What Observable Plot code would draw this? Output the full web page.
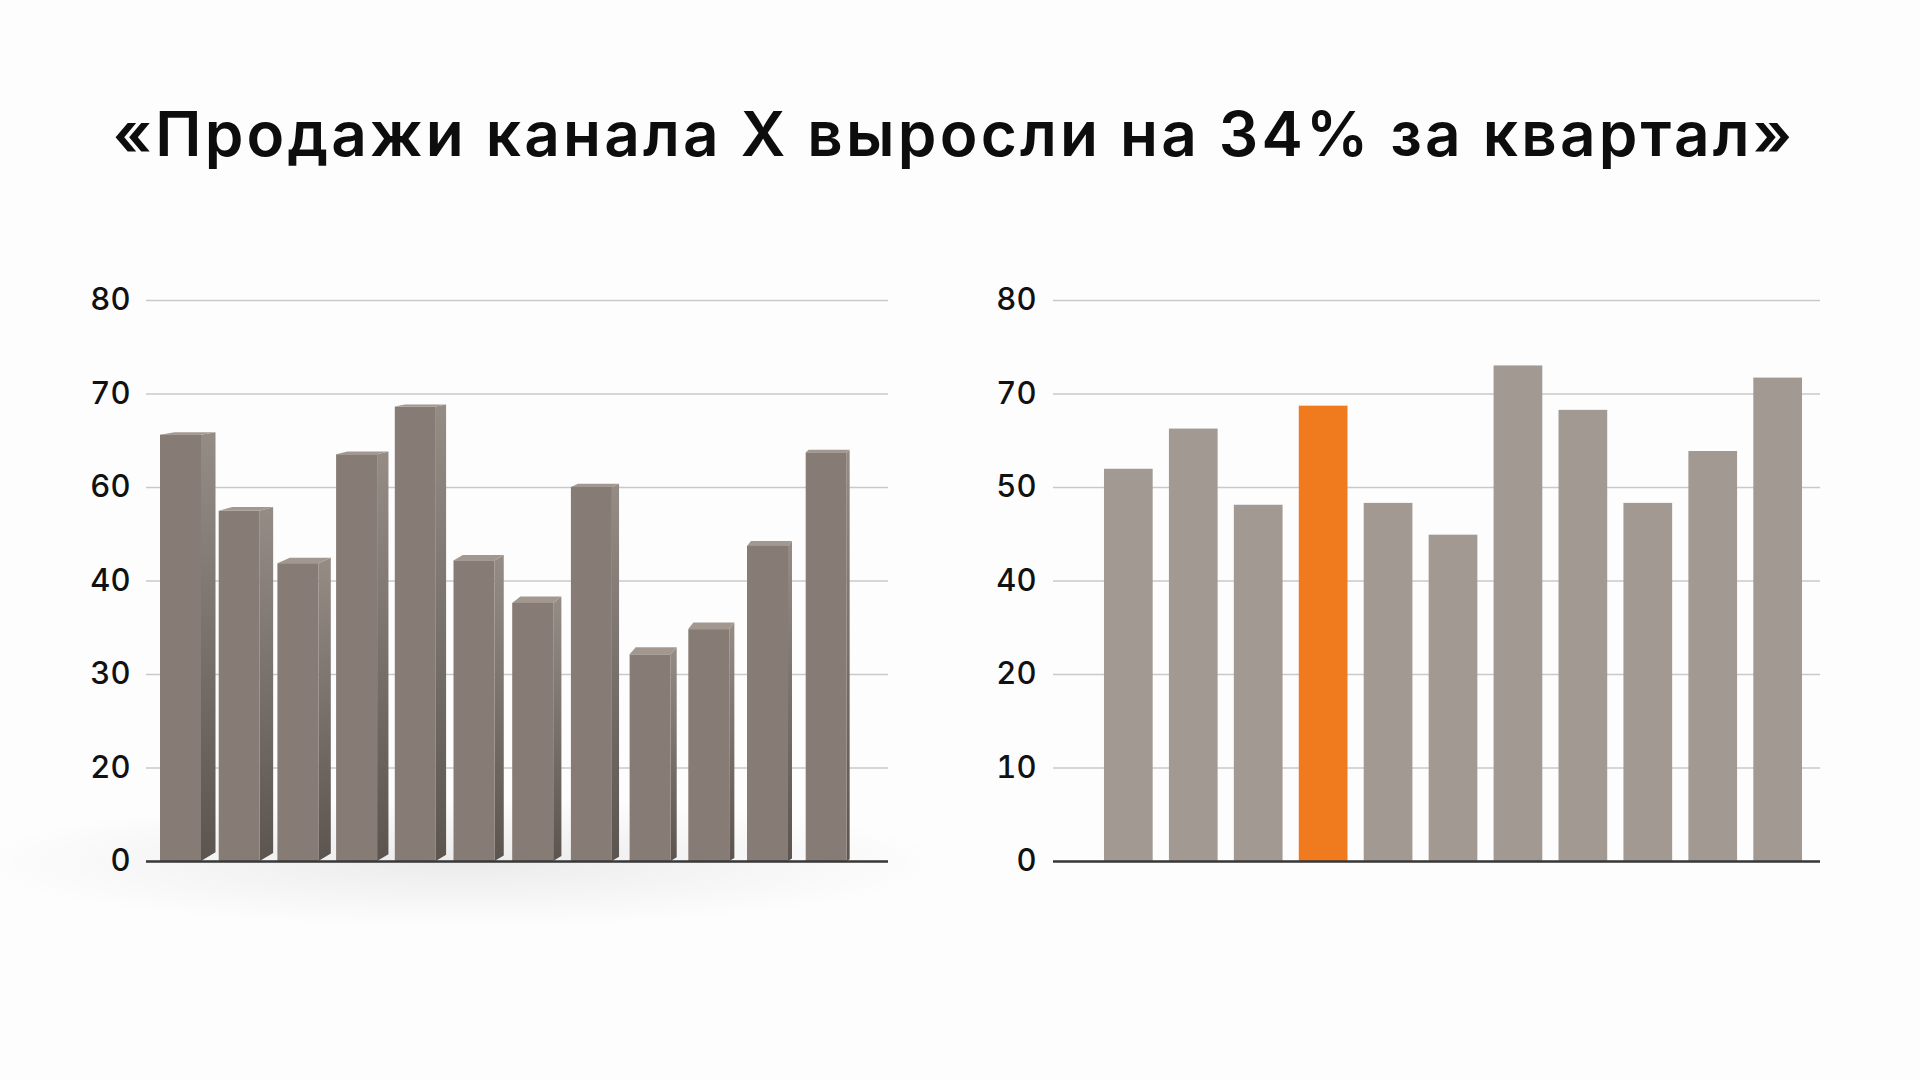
<!DOCTYPE html>
<html><head><meta charset="utf-8">
<script src="https://cdn.jsdelivr.net/npm/d3@7"></script>
<script src="https://cdn.jsdelivr.net/npm/@observablehq/plot@0.6"></script>
<style>
html,body{margin:0;padding:0;width:1920px;height:1080px;background:#fdfdfd;overflow:hidden;font-family:Inter,"Noto Sans",sans-serif}
#title{position:absolute;left:-6px;top:103px;width:1920px;text-align:center;font-size:62px;line-height:62px;font-weight:600;color:#0d0d0d;white-space:nowrap;letter-spacing:3.2px}
.chart{position:absolute;top:250px;width:960px;height:700px}
#shadow{position:absolute;left:-30px;top:800px;width:980px;height:130px;background:radial-gradient(ellipse 50% 50% at 50% 48%, rgba(0,0,0,0.07), rgba(0,0,0,0) 100%)}
.chart svg text{font-weight:500}
</style></head><body>
<div id="shadow"></div>
<div id="title">«Продажи канала X выросли на 34% за квартал»</div>
<div id="left" class="chart" style="left:0"></div>
<div id="right" class="chart" style="left:960px"></div>
<script>
// ---- data ----
const leftCats = ["1","2","3","4","5","6","7","8","9","10","11","12"];
const leftValues = [65.6, 54.9, 43.7, 63.5, 68.6, 44.3, 37.6, 60.0, 32.1, 34.8, 47.4, 63.7];
const leftTicks = [0, 20, 30, 40, 60, 70, 80];

const rightCats = ["1","2","3","4","5","6","7","8","9","10","11"];
const rightValues = [53.9, 62.5, 48.1, 67.4, 48.3, 44.9, 73.0, 66.5, 48.3, 57.7, 71.7];
const rightTicks = [0, 10, 20, 40, 50, 70, 80];
const highlightCat = "4";

// ---- layout / style ----
const W = 960, H = 700, MT = 50, MB = 89;
const evenRange = (ticks) => ticks.map((_, i) => H - MB - i * (H - MB - MT) / (ticks.length - 1));
const FONT = "Inter, 'Noto Sans', sans-serif";
const TICK_FS = 31;

// ---- left (3D) chart ----
const LM = 146, LR = 72;
const pitch = 58.7, firstPx = 160, frontPx = 41;
const lyOpts = {type: "linear", domain: leftTicks, range: evenRange(leftTicks)};
// same piecewise mapping as the plot's y scale, used only to size the 3D faces in pixels
const yS = d3.scaleLinear().domain(lyOpts.domain).range(lyOpts.range);
const depthPx = (i) => 14.5 - 1.05 * i;
const bars = leftValues.map((v, i) => {
  const dpx = depthPx(i);
  const d = dpx / pitch;
  const t = 1.5 + (72 - v) * 0.14;
  const L = i, R = i + frontPx / pitch;
  const vb = yS.invert(yS(v) - t);
  const rb = yS.invert(yS(0) - 0.6 * dpx);
  return {c: leftCats[i], v, L, R, d, vb, rb};
});
const sidePts = bars.flatMap((b, i) => [
  {b: i, x: b.R, y1: 0, y2: b.v},
  {b: i, x: b.R + b.d, y1: b.rb, y2: b.vb}
]);
const topPts = bars.flatMap((b, i) => [
  {b: i, x: b.L, y1: b.v, y2: b.v},
  {b: i, x: b.L + b.d, y1: b.v, y2: b.vb},
  {b: i, x: b.R, y1: b.v, y2: b.vb},
  {b: i, x: b.R + b.d, y1: b.vb, y2: b.vb}
]);

const defs = () => {
  const s = d3.create("svg:defs");
  const g = s.append("linearGradient").attr("id", "sideGrad")
    .attr("x1", 0).attr("y1", 0).attr("x2", 0).attr("y2", 1);
  g.append("stop").attr("offset", "0%").attr("stop-color", "#958c86");
  g.append("stop").attr("offset", "100%").attr("stop-color", "#5b544f");
  return s.node();
};

const left = Plot.plot({
  width: W, height: H, marginLeft: LM, marginRight: LR, marginTop: MT, marginBottom: MB,
  style: {background: "transparent", fontFamily: FONT, fontSize: TICK_FS + "px", color: "#111", overflow: "visible"},
  x: {type: "linear", domain: [(LM - firstPx) / pitch, (W - LR - firstPx) / pitch], axis: null},
  y: {...lyOpts, axis: null},
  marks: [
    defs,
    Plot.gridY(leftTicks, {stroke: "#c9c9c9", strokeOpacity: 1, strokeWidth: 1.5}),
    Plot.areaY(sidePts, {x: "x", y1: "y1", y2: "y2", z: "b", fill: "url(#sideGrad)", curve: "linear"}),
    Plot.areaY(topPts, {x: "x", y1: "y1", y2: "y2", z: "b", fill: "#a3988f", curve: "linear"}),
    Plot.rect(bars, {x1: "L", x2: "R", y1: 0, y2: "v", fill: "#867c75"}),
    Plot.ruleY([0], {stroke: "#383838", strokeWidth: 2.5}),
    Plot.axisY(leftTicks, {tickSize: 0, tickPadding: 16, fontSize: TICK_FS, fontWeight: 500, fill: "#111", label: null, tickFormat: d => String(d)})
  ]
});
document.getElementById("left").append(left);

// ---- right (flat) chart ----
const rightData = rightCats.map((c, i) => ({c, v: rightValues[i]}));
const right = Plot.plot({
  width: W, height: H, marginLeft: 93, marginRight: 100, marginTop: MT, marginBottom: MB,
  style: {background: "transparent", fontFamily: FONT, fontSize: TICK_FS + "px", color: "#111", overflow: "visible"},
  x: {type: "band", domain: rightCats, padding: 0.25, round: false, insetLeft: 34.75, insetRight: 1.75, axis: null},
  y: {type: "linear", domain: rightTicks, range: evenRange(rightTicks), axis: null},
  marks: [
    Plot.gridY(rightTicks, {stroke: "#c9c9c9", strokeOpacity: 1, strokeWidth: 1.5}),
    Plot.barY(rightData.filter(d => d.c !== highlightCat), {x: "c", y: "v", fill: "#a29992"}),
    Plot.barY(rightData.filter(d => d.c === highlightCat), {x: "c", y: "v", fill: "#f07a1e"}),
    Plot.ruleY([0], {stroke: "#383838", strokeWidth: 2.5}),
    Plot.axisY(rightTicks, {tickSize: 0, tickPadding: 17, fontSize: TICK_FS, fontWeight: 500, fill: "#111", label: null, tickFormat: d => String(d)})
  ]
});
document.getElementById("right").append(right);
</script>
</body></html>
